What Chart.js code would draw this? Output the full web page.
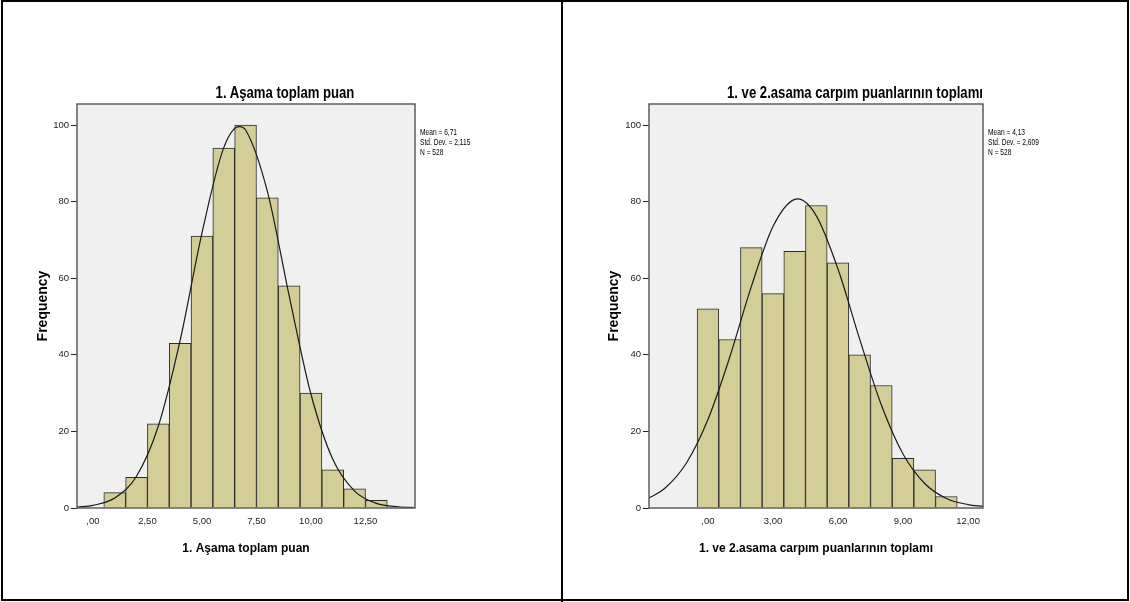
<!DOCTYPE html>
<html>
<head>
<meta charset="utf-8">
<script src="https://cdn.jsdelivr.net/npm/chart.js@4.4.1/dist/chart.umd.min.js"></script>
<style>
  body { margin: 0; background: #fff; }
  #page { position: relative; width: 1130px; height: 602px; overflow: hidden; }
  .frame { position: absolute; left: 1px; top: 0; width: 1128px; height: 601px; border: 2px solid #000; box-sizing: border-box; }
  .divider { position: absolute; left: 561px; top: 0; width: 2px; height: 602px; background: #000; }
  canvas { position: absolute; top: 0; }
  .title { position: absolute; width: 400px; text-align: center; font: bold 16px 'Liberation Sans', Arial, sans-serif; line-height: 18px; color: #000; white-space: nowrap; transform: scaleX(0.82); transform-origin: 50% 50%; }
  .stats { position: absolute; font: 8.5px 'Liberation Sans', Arial, sans-serif; line-height: 10px; color: #000; white-space: nowrap; transform: scaleX(0.78); transform-origin: 0 0; }
</style>
</head>
<body>
<div id="page">
  <div class="frame"></div>
  <div class="divider"></div>
  <canvas id="chart-left" width="562" height="602" style="left:0px"></canvas>
  <canvas id="chart-right" width="567" height="602" style="left:563px"></canvas>
  <div class="title" style="left:85px; top:84px">1. Aşama toplam puan</div>
  <div class="title" style="left:655px; top:84px">1. ve 2.asama carpım puanlarının toplamı</div>
  <div class="stats" style="left:420px; top:127px">Mean = 6,71<br>Std. Dev. = 2,115<br>N = 528</div>
  <div class="stats" style="left:988px; top:127px">Mean = 4,13<br>Std. Dev. = 2,609<br>N = 528</div>
</div>

<script>
// ---- left chart: 1. Aşama toplam puan ----
const leftBins = [1, 2, 3, 4, 5, 6, 7, 8, 9, 10, 11, 12, 13]
const leftCounts = [4, 8, 22, 43, 71, 94, 100, 81, 58, 30, 10, 5, 2]
const leftCurveX = [-0.73, 0, 1, 2, 3, 4, 5, 6, 6.71, 7, 8, 9, 10, 11, 12, 13, 14, 14.77]
const leftCurveY = [0.2, 0.7, 2.6, 8.3, 21.4, 43.8, 71.8, 94.1, 99.6, 98.7, 82.7, 55.4, 29.7, 12.7, 4.4, 1.2, 0.3, 0.1]
const leftXTicks = [0, 2.5, 5, 7.5, 10, 12.5]
const leftXTickLabels = [',00', '2,50', '5,00', '7,50', '10,00', '12,50']

// ---- right chart: 1. ve 2.asama carpım puanlarının toplamı ----
const rightBins = [0, 1, 2, 3, 4, 5, 6, 7, 8, 9, 10, 11]
const rightCounts = [52, 44, 68, 56, 67, 79, 64, 40, 32, 13, 10, 3]
const rightCurveX = [-2.72, -2, -1, 0, 1, 2, 3, 4, 4.13, 5, 6, 7, 8, 9, 10, 11, 12, 12.69]
const rightCurveY = [2.6, 5.1, 11.7, 23.1, 39.3, 57.8, 73.5, 80.6, 80.7, 76.3, 62.4, 44.1, 26.9, 14.1, 6.4, 2.5, 0.9, 0.4]
const rightXTicks = [0, 3, 6, 9, 12]
const rightXTickLabels = [',00', '3,00', '6,00', '9,00', '12,00']

const yTicks = [0, 20, 40, 60, 80, 100]
const yTickLabels = ['0', '20', '40', '60', '80', '100']

const FONT = "'Liberation Sans', Arial, sans-serif"
const BAR_FILL = '#d3ce97'


const plotFrame = {
    id: 'plotFrame',
    beforeDraw(chart) {
        const a = chart.chartArea
        const ctx = chart.ctx
        ctx.save()
        ctx.fillStyle = '#f0f0f0'
        ctx.fillRect(a.left, a.top, a.right - a.left, a.bottom - a.top)
        ctx.restore()
    },
    afterDraw(chart) {
        const a = chart.chartArea
        const ctx = chart.ctx
        ctx.save()
        ctx.strokeStyle = '#5e5e5e'
        ctx.lineWidth = 1.5
        ctx.strokeRect(a.left, a.top, a.right - a.left, a.bottom - a.top)
        ctx.restore()
    }
}


function drawHistogram(cfg) {
    new Chart(document.getElementById(cfg.elementId), {
        type: 'bar',
        data: {
            datasets: [
                {
                    type: 'line',
                    data: cfg.curveX.map((x, i) => ({ x: x, y: cfg.curveY[i] })),
                    borderColor: '#1a1a1a',
                    borderWidth: 1.2,
                    pointRadius: 0,
                    cubicInterpolationMode: 'monotone',
                    order: 0
                },
                {
                    type: 'bar',
                    data: cfg.bins.map((b, i) => ({ x: b, y: cfg.counts[i] })),
                    backgroundColor: BAR_FILL,
                    borderColor: '#2b2b2b',
                    borderWidth: 1,
                    barPercentage: 1,
                    categoryPercentage: 1,
                    grouped: false,
                    order: 1
                }
            ]
        },
        options: {
            responsive: false,
            animation: false,
            devicePixelRatio: 1,
            layout: { padding: { left: cfg.padLeft, right: cfg.padRight, top: 104, bottom: 42 } },
            plugins: { legend: { display: false }, tooltip: { enabled: false } },
            scales: {
                x: {
                    type: 'linear',
                    offset: false,
                    min: cfg.xMin,
                    max: cfg.xMax,
                    afterBuildTicks: (scale) => { scale.ticks = cfg.xTicks.map(v => ({ value: v })) },
                    afterFit: (scale) => { scale.height = 52 },
                    ticks: {
                        autoSkip: false,
                        maxRotation: 0,
                        padding: 8,
                        color: '#222',
                        font: { family: FONT, size: 9.5 },
                        callback: (value, index) => cfg.xTickLabels[index]
                    },
                    grid: { display: true, drawOnChartArea: false, drawTicks: false },
                    border: { display: false },
                    title: {
                        display: true,
                        text: cfg.xTitle,
                        color: '#000',
                        font: { family: FONT, size: 12, weight: 'bold' }
                    }
                },
                y: {
                    min: 0,
                    max: 105.5,
                    afterBuildTicks: (scale) => { scale.ticks = yTicks.map(v => ({ value: v })) },
                    afterFit: (scale) => { scale.width = cfg.yWidth },
                    ticks: {
                        padding: 2,
                        color: '#222',
                        font: { family: FONT, size: 9.5 },
                        callback: (value, index) => yTickLabels[index]
                    },
                    grid: { display: true, drawOnChartArea: false, tickLength: 6, color: '#222', lineWidth: 1 },
                    border: { display: false },
                    title: {
                        display: true,
                        text: 'Frequency',
                        color: '#000',
                        font: { family: FONT, size: 14, weight: 'bold' }
                    }
                }
            }
        },
        plugins: [plotFrame]
    })
}


window.onload = () => {
    drawHistogram({
        elementId: 'chart-left',
        bins: leftBins, counts: leftCounts,
        curveX: leftCurveX, curveY: leftCurveY,
        xTicks: leftXTicks, xTickLabels: leftXTickLabels,
        xMin: -0.73, xMax: 14.77,
        xTitle: '1. Aşama toplam puan',
        padLeft: 31, padRight: 147, yWidth: 46
    })
    drawHistogram({
        elementId: 'chart-right',
        bins: rightBins, counts: rightCounts,
        curveX: rightCurveX, curveY: rightCurveY,
        xTicks: rightXTicks, xTickLabels: rightXTickLabels,
        xMin: -2.72, xMax: 12.69,
        xTitle: '1. ve 2.asama carpım puanlarının toplamı',
        padLeft: 39, padRight: 147, yWidth: 47
    })
}
</script>
</body>
</html>
